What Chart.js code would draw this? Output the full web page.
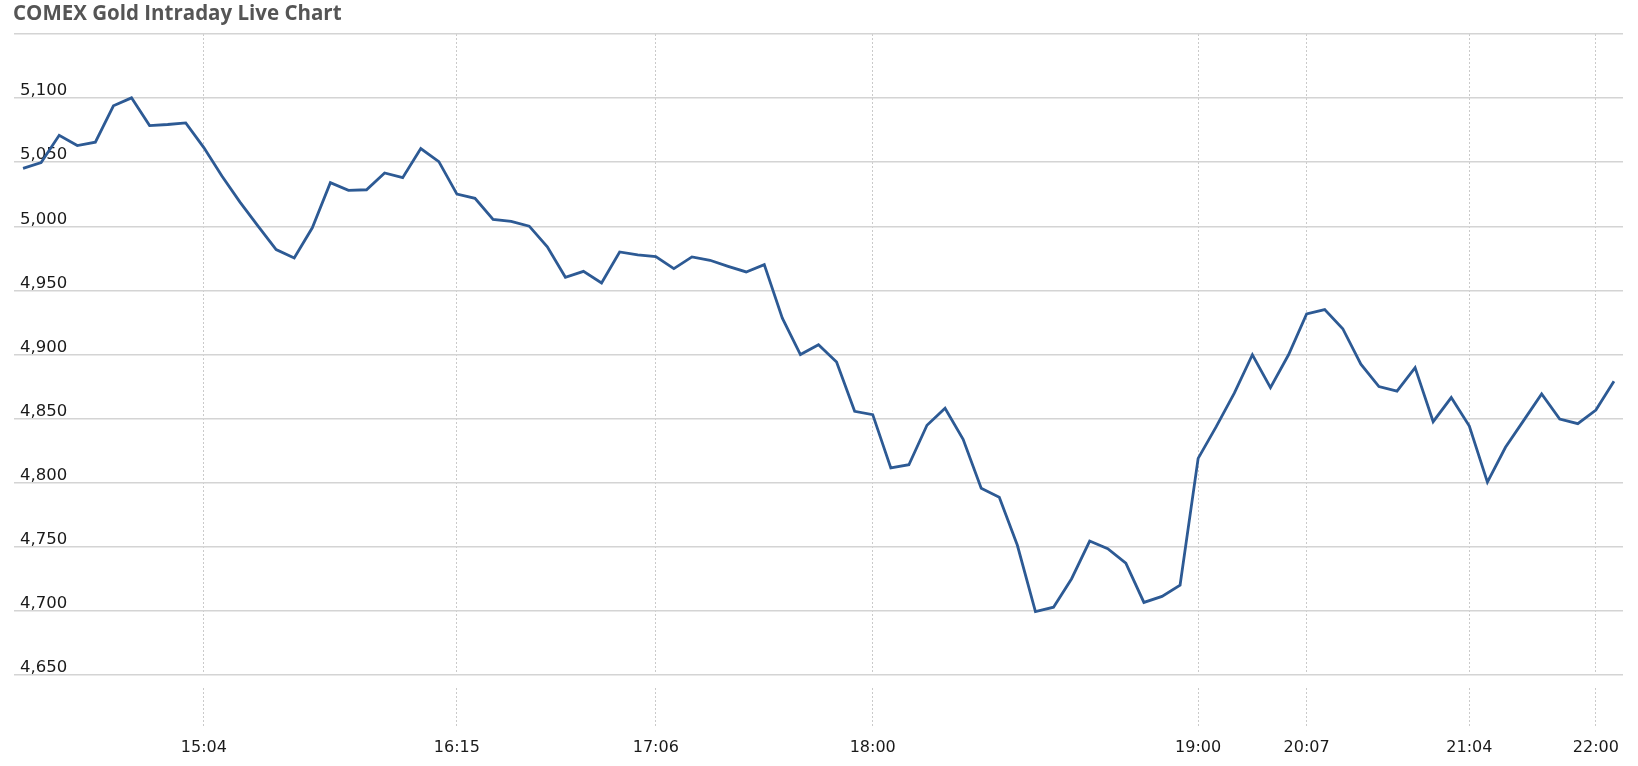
<!DOCTYPE html>
<html>
<head>
<meta charset="utf-8">
<title>COMEX Gold Intraday Live Chart</title>
<script src="https://cdn.jsdelivr.net/npm/chart.js@4.4.1/dist/chart.umd.min.js"></script>
<style>
    body { margin: 0; background: #fff; }
    #wrap { position: relative; width: 1638px; height: 766px; }
    #title {
        position: absolute; left: 13px; top: 2px;
        font: bold 20.5px "Open Sans", sans-serif; line-height: 1;
        color: #555;
    }
</style>
</head>
<body>
<div id="wrap">
    <div id="title">COMEX Gold Intraday Live Chart</div>
    <canvas id="goldChart" width="1638" height="766"></canvas>
</div>
<script>
// Gold price, one value per bar
const prices = [
    5045.2, 5049.7, 5071.0, 5063.0, 5065.6, 5094.0, 5100.2, 5078.6, 5079.4, 5080.7,
    5061.4, 5039.2, 5018.9, 5000.1, 4981.8, 4975.3, 4998.8, 5034.0, 5028.0, 5028.5,
    5041.6, 5037.9, 5060.6, 5050.4, 5025.1, 5021.8, 5005.3, 5003.8, 5000.1, 4984.0,
    4960.2, 4964.9, 4955.8, 4980.0, 4977.7, 4976.4, 4967.0, 4976.1, 4973.5, 4968.8,
    4964.4, 4970.1, 4928.4, 4900.0, 4907.6, 4894.1, 4855.7, 4853.1, 4811.6, 4814.0,
    4844.8, 4858.1, 4833.8, 4795.7, 4788.7, 4751.2, 4699.5, 4702.9, 4725.1, 4754.5,
    4748.6, 4737.3, 4706.6, 4711.3, 4720.1, 4819.0, 4843.7, 4869.8, 4899.8, 4874.2,
    4899.8, 4931.6, 4935.0, 4920.1, 4892.5, 4875.0, 4871.4, 4889.8, 4847.6, 4866.4,
    4844.2, 4800.4, 4827.6, 4848.4, 4869.3, 4849.7, 4846.0, 4856.7, 4879.2
];

// Time labels and the bar they sit on
const tickIndex = [10, 24, 35, 47, 65, 71, 80, 87];
const tickLabels = ['15:04', '16:15', '17:06', '18:00', '19:00', '20:07', '21:04', '22:00'];

const yMin = 4650;
const yMax = 5150;
const yStep = 50;

const categories = prices.map((p, i) => {
    const k = tickIndex.indexOf(i);
    return k >= 0 ? tickLabels[k] : '';
});

const vGridColor = ctx => categories[ctx.index] ? '#cacaca' : 'rgba(0,0,0,0)';

// tick marks under the plot: small gap, then dots
const tickDash = [0, 13];
for (let i = 0; i < 12; i++) tickDash.push(2, 2);

const ctx = document.getElementById('goldChart').getContext('2d');
new Chart(ctx, {
    type: 'line',
    data: {
        labels: categories,
        datasets: [{
            label: 'COMEX Gold',
            data: prices,
            borderColor: '#2d5a94',
            borderWidth: 2.8,
            pointRadius: 0,
            tension: 0,
            fill: false
        }]
    },
    options: {
        responsive: false,
        animation: false,
        layout: {
            padding: { top: 34, left: 14, right: 15, bottom: 0 }
        },
        plugins: {
            legend: { display: false },
            tooltip: { enabled: false }
        },
        scales: {
            x: {
                offset: true,
                border: { display: false, dash: [2, 2] },
                grid: {
                    offset: false,
                    color: vGridColor,
                    tickColor: vGridColor,
                    lineWidth: 1,
                    tickLength: 51,
                    tickBorderDash: tickDash
                },
                ticks: {
                    autoSkip: false,
                    maxRotation: 0,
                    minRotation: 0,
                    padding: 12,
                    color: '#1a1a1a',
                    font: { family: 'DejaVu Sans', size: 16 }
                },
                afterFit: s => {
                    s.height = 91;
                    s.paddingLeft = 0;
                    s.paddingRight = 0;
                }
            },
            y: {
                min: yMin,
                max: yMax,
                border: { display: false },
                grid: {
                    color: '#d4d4d4',
                    lineWidth: 1.5,
                    drawTicks: false
                },
                ticks: {
                    stepSize: yStep,
                    mirror: true,
                    padding: 6,
                    labelOffset: -7,
                    color: '#1a1a1a',
                    font: { family: 'DejaVu Sans', size: 16.5 },
                    callback: v => v === yMax ? '' : v.toLocaleString('en-US')
                },
                afterFit: s => {
                    s.width = 0;
                    s.paddingTop = 0;
                    s.paddingBottom = 0;
                }
            }
        }
    }
});
</script>
</body>
</html>
